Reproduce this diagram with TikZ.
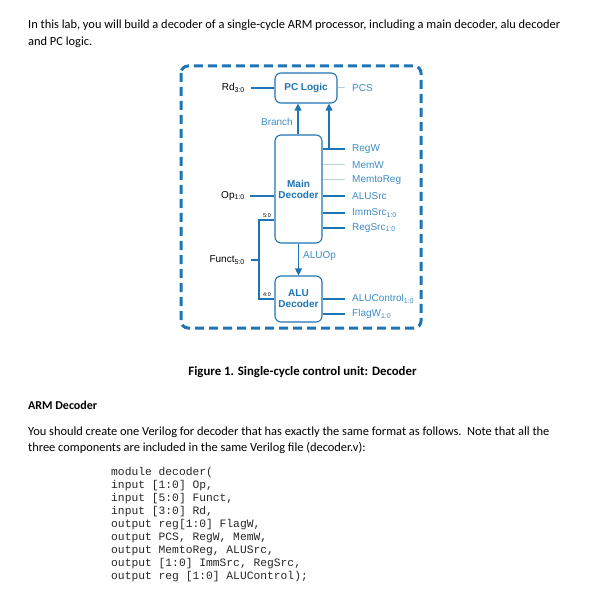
\documentclass[tikz,border=0pt]{standalone}
\usepackage{fontspec}
\setmainfont{Carlito}
\setmonofont{Liberation Mono}
\newfontfamily\diagfont{Liberation Sans}
\usetikzlibrary{arrows.meta,positioning,calc}

\definecolor{ctlblue}{RGB}{30,116,180}
\definecolor{lblblue}{RGB}{60,140,200}
\definecolor{faintblue}{RGB}{185,205,222}

\begin{document}
\begin{tikzpicture}[x=1pt,y=-1pt,
    unitbox/.style={draw=ctlblue,line width=1.1pt,rounded corners=6pt,fill=white,
        font=\diagfont\fontsize{10}{11}\selectfont\bfseries,text=ctlblue,align=center,inner sep=0pt},
    sig/.style={draw=ctlblue,line width=1.1pt},
    bus/.style={draw=ctlblue,line width=2pt},
    faint/.style={draw=faintblue,line width=1pt},
    lbl/.style={font=\diagfont\fontsize{10}{11}\selectfont,text=lblblue,inner sep=0pt},
    inlbl/.style={font=\diagfont\fontsize{10}{11}\selectfont,text=black,inner sep=0pt},
    width/.style={font=\diagfont\fontsize{5.5}{6}\selectfont,text=black,inner sep=0pt},
    tip/.style={-{Triangle[width=7pt,length=7pt]}},
    body/.style={font=\fontsize{12.4}{15}\selectfont,anchor=west,inner sep=0pt},
    code/.style={font=\ttfamily\fontsize{11.3}{12}\selectfont,text=black!85,anchor=west,inner sep=0pt}]
    \useasboundingbox (0,0) rectangle (594,601);

    % intro text
    \node[body] (intro1) at (28,25) {In this lab, you will build a decoder of a single-cycle ARM processor, including a main decoder, alu decoder};
    \node[body] (intro2) at (28,42) {and PC logic.};

    % dashed frame of the control unit
    \draw[draw=ctlblue,line width=3pt,dash pattern=on 9pt off 5pt,rounded corners=7pt] (181,66) rectangle (421,328);

    % the three units
    \node[unitbox,minimum width=62pt,minimum height=30pt] (pclogic) at (306,88) {PC Logic};
    \node[unitbox,minimum width=47pt,minimum height=108pt] (maindec) at (298.5,189) {Main\\Decoder};
    \node[unitbox,minimum width=47pt,minimum height=46pt] (aludec) at (298.5,299) {ALU\\Decoder};

    % inputs
    \node[inlbl,anchor=east] (rd) at (245,88) {Rd\textsubscript{3:0}};
    \node[inlbl,anchor=east] (op) at (245,196) {Op\textsubscript{1:0}};
    \node[inlbl,anchor=east] (funct) at (245,260) {Funct\textsubscript{5:0}};
    \draw[sig] ([xshift=6pt]rd.east) -- (rd -| pclogic.west);
    \draw[bus] ([xshift=5pt]op.east) -- (op -| maindec.west);
    \coordinate (fbus) at (259,260);
    \draw[sig] ([xshift=6pt]funct.east) -- (fbus);
    \draw[bus] (maindec.west |- 0,220) -| (fbus) |- (aludec.west |- 0,299);
    \node[width,anchor=south] (w50) at (267,218) {5:0};
    \node[width,anchor=south] (w40) at (267,297) {4:0};

    % PC logic output
    \node[lbl,anchor=west] (pcs) at (352,88) {PCS};
    \draw[faint] (pclogic.east) -- ([xshift=-7pt]pcs.west);

    % main decoder outputs
    \foreach \name/\y/\txt/\sty in {regw/149/RegW/sig, memw/165/MemW/faint,
        memtoreg/180/MemtoReg/faint, alusrc/196/ALUSrc/sig,
        immsrc/213/ImmSrc\textsubscript{1:0}/sig, regsrc/228/RegSrc\textsubscript{1:0}/sig} {
        \node[lbl,anchor=west] (\name) at (352,\y) {\txt};
        \draw[\sty] (maindec.east |- \name.west) -- ([xshift=-7pt]\name.west);
    }

    % ALU decoder outputs
    \node[lbl,anchor=west] (aluctl) at (352,299) {ALUControl\textsubscript{1:0}};
    \node[lbl,anchor=west] (flagw) at (352,314) {FlagW\textsubscript{1:0}};
    \draw[bus] (aludec.east |- aluctl.west) -- ([xshift=-7pt]aluctl.west);
    \draw[sig] (aludec.east |- flagw.west) -- ([xshift=-7pt]flagw.west);

    % control arrows
    \coordinate (pcsrc) at (329,149);
    \draw[sig,tip,fill=ctlblue] (maindec.north -| 298,0) -- (pclogic.south -| 298,0);
    \draw[sig,tip,fill=ctlblue] (pcsrc) -- (pclogic.south -| pcsrc);
    \draw[sig,tip,fill=ctlblue] (maindec.south) -- (aludec.north);
    \node[lbl,anchor=east] (branch) at (293,122) {Branch};
    \node[lbl,anchor=west] (aluop) at (303,256) {ALUOp};

    % caption and text below
    \node[font=\fontsize{12.8}{15}\selectfont\bfseries,inner sep=0pt] (caption) at (302.5,372) {Figure 1. Single-cycle control unit: Decoder};
    \node[body,font=\fontsize{12}{14}\selectfont\bfseries] (head) at (28,405) {ARM Decoder};
    \node[body] (para1) at (28,432) {You should create one Verilog for decoder that has exactly the same format as follows.\ \ Note that all the};
    \node[body] (para2) at (28,448) {three components are included in the same Verilog file (decoder.v):};

    % verilog listing
    \foreach \txt [count=\i from 0] in {module decoder(, {input [1:0] Op,}, {input [5:0] Funct,},
        {input [3:0] Rd,}, {output reg[1:0] FlagW,}, {output PCS, RegW, MemW,},
        {output MemtoReg, ALUSrc,}, {output [1:0] ImmSrc, RegSrc,}, {output reg [1:0] ALUControl);}} {
        \node[code] (code\i) at (111,473+12.9*\i) {\txt};
    }
\end{tikzpicture}
\end{document}
